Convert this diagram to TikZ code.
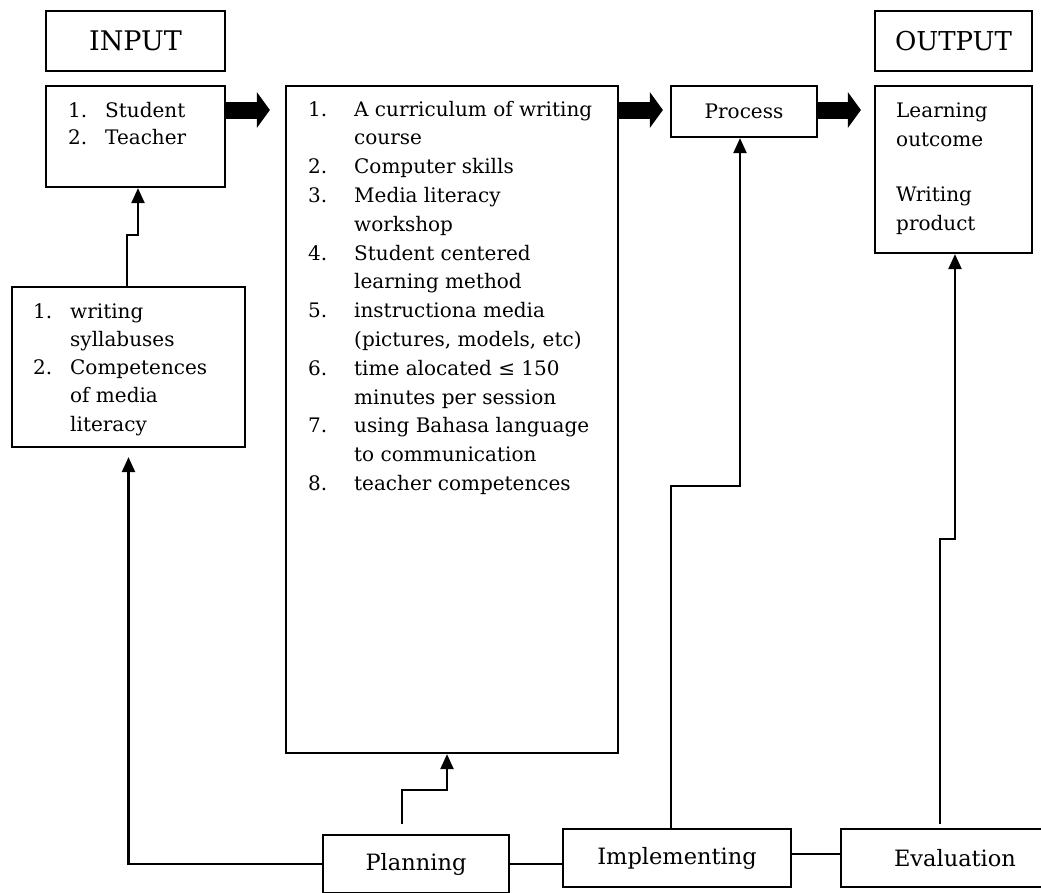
\documentclass[tikz,border=0pt]{standalone}
\usepackage{fontspec}
\setmainfont{DejaVu Serif}
\usetikzlibrary{arrows.meta, positioning}
\newcommand{\listline}[3][46pt]{\makebox[#1][l]{#2}#3}
\newcommand{\listfont}[1]{\fontsize{20pt}{#1}\selectfont}

\begin{document}
\begin{tikzpicture}[x=1pt, y=-1pt,
    box/.style={draw, line width=2.2pt, inner sep=0pt},
    conn/.style={line width=2.2pt, -{Triangle[length=15pt, width=13pt]}},
    fat/.style={line width=17pt, -{Triangle[length=13pt, width=35pt]}},
    listtext/.style={anchor=base west, align=left, inner sep=0pt}]

    \useasboundingbox (0,0) rectangle (1041,892);

    % headings above the first and last column
    \node[box, minimum width=179, minimum height=60, font=\fontsize{27pt}{32pt}\selectfont] (input) at (135.5,41) {INPUT};
    \node[box, minimum width=157, minimum height=60, font=\fontsize{26pt}{32pt}\selectfont] (outhead) at (953.5,41) {OUTPUT};

    % boxes of the top row
    \node[box, minimum width=179, minimum height=101] (student) at (135.5,136.5) {};
    \node[box, minimum width=332, minimum height=667] (main) at (452,419.5) {};
    \node[box, minimum width=146, minimum height=51, font=\listfont{24pt}] (process) at (744,111.5) {Process};
    \node[box, minimum width=157, minimum height=167] (output) at (953.5,169.5) {};
    \node[box, minimum width=233, minimum height=160] (syll) at (128.5,367) {};

    % texts inside the boxes (base = baseline of the last line)
    \node[listtext, font=\listfont{27pt}] (studtext) at (68,144)
        {\listline[37pt]{1.}{Student}\\\listline[37pt]{2.}{Teacher}};
    \node[listtext, font=\listfont{28.3pt}] (sylltext) at (33,431.2)
        {\listline[37pt]{1.}{writing}\\
         \listline[37pt]{}{syllabuses}\\
         \listline[37pt]{2.}{Competences}\\
         \listline[37pt]{}{of media}\\
         \listline[37pt]{}{literacy}};
    \node[listtext, font=\listfont{28.8pt}] (maintext) at (308,490.4)
        {\listline{1.}{A curriculum of writing}\\
         \listline{}{course}\\
         \listline{2.}{Computer skills}\\
         \listline{3.}{Media literacy}\\
         \listline{}{workshop}\\
         \listline{4.}{Student centered}\\
         \listline{}{learning method}\\
         \listline{5.}{instructiona media}\\
         \listline{}{(pictures, models, etc)}\\
         \listline{6.}{time alocated ≤ 150}\\
         \listline{}{minutes per session}\\
         \listline{7.}{using Bahasa language}\\
         \listline{}{to communication}\\
         \listline{8.}{teacher competences}};
    \node[listtext, font=\listfont{29pt}] (outtext) at (896,230)
        {Learning\\outcome\\[26pt]Writing\\product};

    % bottom row
    \node[box, minimum width=186, minimum height=58, font=\fontsize{22.5pt}{27pt}\selectfont] (planning) at (416,864) {Planning};
    \node[box, minimum width=228, minimum height=58, font=\fontsize{22.5pt}{27pt}\selectfont] (impl) at (677,858) {Implementing};
    \node[box, minimum width=228, minimum height=58, font=\fontsize{22.5pt}{27pt}\selectfont] (eval) at (955,858) {Evaluation};

    \coordinate (toprow) at (0,110);
    \coordinate (implstep) at (740,486);
    \coordinate (evalstep) at (955,539);

    % thick arrows along the top row
    \draw[fat, shorten >=15pt] (student.east |- toprow) -- (main.west |- toprow);
    \draw[fat, shorten >=7pt] (main.east |- toprow) -- (process.west |- toprow);
    \draw[fat, shorten >=13pt] (process.east |- toprow) -- (output.west |- toprow);

    % thin connectors
    \draw[conn] ([xshift=-1.5pt]syll.north) -- ++(0,-51) -| ([xshift=2.5pt]student.south);
    \draw[conn, shorten >=9pt] (planning.west) -| (syll.south);
    \draw[conn] ([shift={(-14,-10)}]planning.north) |- ([shift={(-5,36)}]main.south) -- ([xshift=-5pt]main.south);
    \draw[conn] ([xshift=-6pt]impl.north) |- (implstep) -- (implstep |- process.south);
    \draw[conn] ([shift={(-15,-4)}]eval.north) |- (evalstep) -- (evalstep |- output.south);

    \draw[line width=2.2pt] (planning.east) -- (planning.east -| impl.west);
    \draw[line width=2.2pt] ([yshift=4pt]impl.east) -- ([yshift=4pt]eval.west);

\end{tikzpicture}
\end{document}
